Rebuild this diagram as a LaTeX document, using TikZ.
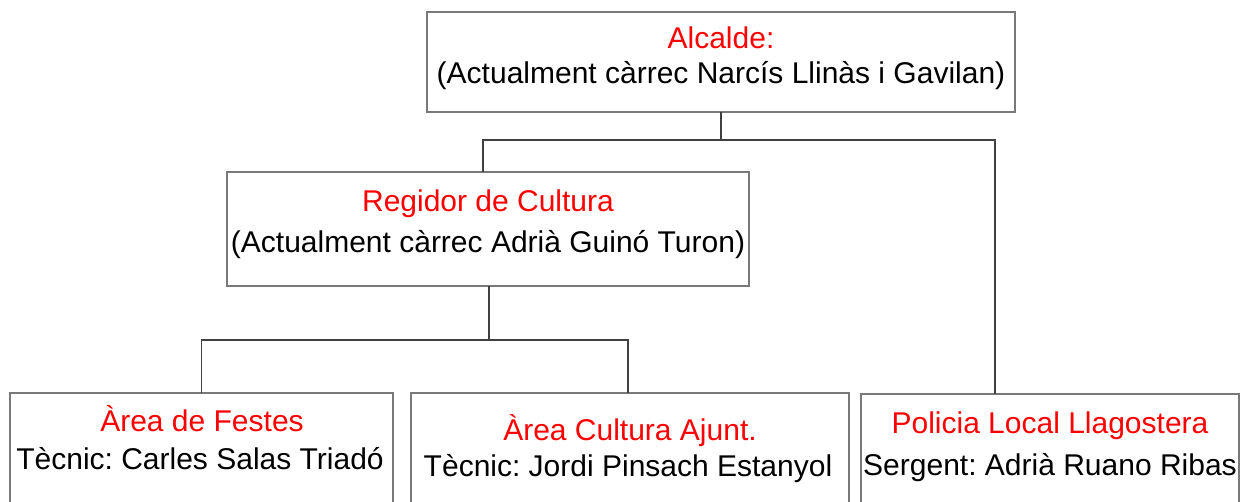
\documentclass[tikz,border=0pt]{standalone}
\usepackage{fontspec}
\setmainfont{Liberation Sans}
\usepackage{tikz}
\frenchspacing

\begin{document}
\begin{tikzpicture}[x=1pt,y=-1pt,
        box/.style={draw=gray!95!black, line width=1.5pt, rectangle, inner sep=0pt, outer sep=0pt},
        head/.style={anchor=base, text=red, font=\fontsize{30}{36}\selectfont, inner sep=0pt},
        who/.style={anchor=base, text=black, font=\fontsize{30}{36}\selectfont, inner sep=0pt},
        link/.style={draw=black!75, line width=1.2pt}]
        \useasboundingbox (0,0) rectangle (1255,502);
        \clip (0,0) rectangle (1255,502);
        \fill[white] (0,0) rectangle (1255,502);
        % boxes
        \node[box, minimum width=588pt, minimum height=100pt] (alcalde) at (721,62) {};
        \node[box, minimum width=522pt, minimum height=114pt] (regidor) at (488,229) {};
        \node[box, minimum width=383pt, minimum height=140pt] (festes) at (201.5,463) {};
        \node[box, minimum width=438pt, minimum height=140pt] (cultura) at (630,463) {};
        \node[box, minimum width=378pt, minimum height=140pt] (policia) at (1050,464) {};
        % texts
        \node[head] (alcaldeT) at (721,49) {Alcalde:};
        \node[who] (alcaldeN) at (721,84) {(Actualment càrrec Narcís Llinàs i Gavilan)};
        \node[head] (regidorT) at (488,212) {Regidor de Cultura};
        \node[who] (regidorN) at (488,253) {(Actualment càrrec Adrià Guinó Turon)};
        \node[head] (festesT) at (202,431) {Àrea de Festes};
        \node[who] (festesN) at (200,469) {Tècnic: Carles Salas Triadó};
        \node[head] (culturaT) at (630,440) {Àrea Cultura Ajunt.};
        \node[who] (culturaN) at (628,476) {Tècnic: Jordi Pinsach Estanyol};
        \node[head] (policiaT) at (1050,433) {Policia Local Llagostera};
        \node[who] (policiaN) at (1050,475) {Sergent: Adrià Ruano Ribas};
        % connectors
        \coordinate (j1) at (721,140);
        \coordinate (j2) at (489,340);
        \coordinate (polin) at (995,394);
        \draw[link] (alcalde.south) -- (j1);
        \draw[link] (j1) -| ([xshift=-5pt]regidor.north);
        \draw[link] (j1) -| (polin);
        \draw[link] ([xshift=1pt]regidor.south) -- (j2);
        \draw[link] (j2) -| (festes.north);
        \draw[link] (j2) -| ([xshift=-2pt]cultura.north);
\end{tikzpicture}
\end{document}
